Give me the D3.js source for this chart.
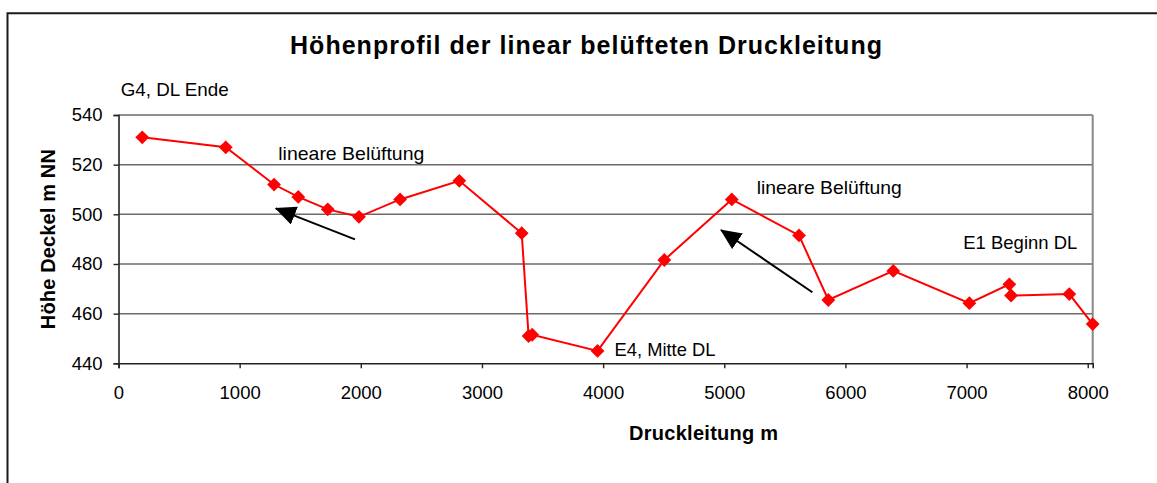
<!DOCTYPE html>
<html>
<head>
<meta charset="utf-8">
<script src="https://cdn.jsdelivr.net/npm/d3@7"></script>
<style>
  body { margin: 0; background: #fff; }
  svg { display: block; font-family: 'Liberation Sans', Arial, sans-serif; }
</style>
</head>
<body>
<div id="chart"></div>
<script>
// Stationierung (m) und Deckelhöhe (m NN)
const distances = [196, 885, 1284, 1484, 1727, 1985, 2324, 2813, 3328, 3385, 3415,
  3954, 4505, 5062, 5617, 5859, 6395, 7023, 7353, 7367, 7848, 8041];
const heights = [531, 527, 512, 507, 502, 499, 506, 513.5, 492.4, 451, 451.5,
  445, 481.6, 506, 491.5, 465.5, 477.2, 464.2, 471.8, 467.3, 467.9, 455.8];

const xTicks = [0, 1000, 2000, 3000, 4000, 5000, 6000, 7000, 8000];
const yTicks = [440, 460, 480, 500, 520, 540];

// Beschriftungen im Diagramm (Datenkoordinaten)
const noteTexts = ['G4, DL Ende', 'lineare Belüftung', 'lineare Belüftung', 'E1 Beginn DL', 'E4, Mitte DL'];
const noteX = [18, 1319, 5268, 6973, 4094];
const noteY = [547.7, 521.9, 508.2, 485.9, 443.1];
const noteWidths = [108, 146, 145, 114, 101];

// Pfeile: von -> nach
const arrowFrom = [[1952, 489.9], [5727, 468.6]];
const arrowTo = [[1298, 502.4], [4973, 493.7]];

/**
* Draw elevation profile.
*/
function profileChart() {
  const totalWidth = 1157;
  const totalHeight = 483;
  const plot = {left: 118.5, top: 115, right: 1092.7, bottom: 363.3};

  let x = d3.scaleLinear()
    .domain([0, d3.max(distances)])
    .range([plot.left, plot.right]);

  let y = d3.scaleLinear()
    .domain([440, 540])
    .range([plot.bottom, plot.top]);

  let svg = d3.select('#chart')
    .append('svg')
      .attr('width', totalWidth)
      .attr('height', totalHeight);

  // outer chart frame (runs off right and bottom)
  svg.append('path')
      .attr('d', 'M7.5,' + totalHeight + 'V13.3H' + totalWidth)
      .attr('fill', 'none')
      .attr('stroke', '#1a1a1a')
      .attr('stroke-width', 2);

  // gridlines
  svg.append('g')
    .selectAll('line')
    .data(yTicks.slice(1))
    .enter().append('line')
      .attr('x1', plot.left)
      .attr('x2', plot.right)
      .attr('y1', function(d) {
        return y(d);
      })
      .attr('y2', function(d) {
        return y(d);
      })
      .attr('stroke', '#6a6a6a')
      .attr('stroke-width', 1.5);

  // right border of plot area
  svg.append('line')
      .attr('x1', plot.right)
      .attr('x2', plot.right)
      .attr('y1', plot.top)
      .attr('y2', plot.bottom)
      .attr('stroke', '#888')
      .attr('stroke-width', 2);

  let xAxis = d3.axisBottom(x)
    .tickValues(xTicks)
    .tickSize(5)
    .tickPadding(18)
    .tickFormat(d3.format('d'));

  let yAxis = d3.axisLeft(y)
    .tickValues(yTicks)
    .tickSize(5)
    .tickPadding(11)
    .tickFormat(d3.format('d'));

  let gx = svg.append('g')
      .attr('transform', 'translate(0,' + plot.bottom + ')')
      .call(xAxis);

  let gy = svg.append('g')
      .attr('transform', 'translate(' + plot.left + ',0)')
      .call(yAxis);

  [gx, gy].forEach(function(g) {
    g.select('.domain').attr('stroke', '#222').attr('stroke-width', 1.6);
    g.selectAll('.tick line').attr('stroke', '#222').attr('stroke-width', 1.4);
    g.selectAll('.tick text')
        .attr('fill', '#000')
        .style('font-size', '18.5px')
        .style('font-family', "'Liberation Sans', Arial, sans-serif");
  });

  // profile line
  let points = distances.map(function(d, i) {
    return [d, heights[i]];
  });

  let line = d3.line()
    .x(function(d) {
      return x(d[0]);
    })
    .y(function(d) {
      return y(d[1]);
    });

  svg.append('path')
      .datum(points)
      .attr('d', line)
      .attr('fill', 'none')
      .attr('stroke', '#ff0000')
      .attr('stroke-width', 2);

  let diamond = d3.symbol().type(d3.symbolSquare).size(95);

  svg.append('g')
    .selectAll('path')
    .data(points)
    .enter().append('path')
      .attr('d', diamond)
      .attr('transform', function(d) {
        return 'translate(' + x(d[0]) + ',' + y(d[1]) + ') rotate(45)';
      })
      .attr('fill', '#ff0000');

  // arrows
  svg.append('defs')
    .append('marker')
      .attr('id', 'head')
      .attr('markerUnits', 'userSpaceOnUse')
      .attr('markerWidth', 22)
      .attr('markerHeight', 20)
      .attr('refX', 20)
      .attr('refY', 9.5)
      .attr('orient', 'auto')
    .append('path')
      .attr('d', 'M0,0L21,9.5L0,19Z')
      .attr('fill', '#000');

  svg.append('g')
    .selectAll('line')
    .data(arrowFrom)
    .enter().append('line')
      .attr('x1', function(d) {
        return x(d[0]);
      })
      .attr('y1', function(d) {
        return y(d[1]);
      })
      .attr('x2', function(d, i) {
        return x(arrowTo[i][0]);
      })
      .attr('y2', function(d, i) {
        return y(arrowTo[i][1]);
      })
      .attr('stroke', '#000')
      .attr('stroke-width', 2)
      .attr('marker-end', 'url(#head)');

  // annotations
  svg.append('g')
    .selectAll('text')
    .data(noteTexts)
    .enter().append('text')
      .attr('x', function(d, i) {
        return x(noteX[i]);
      })
      .attr('y', function(d, i) {
        return y(noteY[i]);
      })
      .attr('textLength', function(d, i) {
        return noteWidths[i];
      })
      .attr('lengthAdjust', 'spacingAndGlyphs')
      .style('font-size', '18.5px')
      .text(function(d) {
        return d;
      });

  // titles
  svg.append('text')
      .attr('x', 586)
      .attr('y', 54)
      .attr('text-anchor', 'middle')
      .attr('textLength', 592)
      .attr('lengthAdjust', 'spacing')
      .style('font-size', '25px')
      .style('font-weight', 'bold')
      .text('Höhenprofil der linear belüfteten Druckleitung');

  svg.append('text')
      .attr('x', (plot.left + plot.right) / 2 + 98)
      .attr('y', 440)
      .attr('text-anchor', 'middle')
      .attr('textLength', 149)
      .attr('lengthAdjust', 'spacing')
      .style('font-size', '20px')
      .style('font-weight', 'bold')
      .text('Druckleitung m');

  svg.append('text')
      .attr('transform', 'translate(55,' + (plot.top + plot.bottom) / 2 + ') rotate(-90)')
      .attr('text-anchor', 'middle')
      .attr('textLength', 180)
      .attr('lengthAdjust', 'spacing')
      .style('font-size', '20px')
      .style('font-weight', 'bold')
      .text('Höhe Deckel m NN');
}

profileChart();
</script>
</body>
</html>
